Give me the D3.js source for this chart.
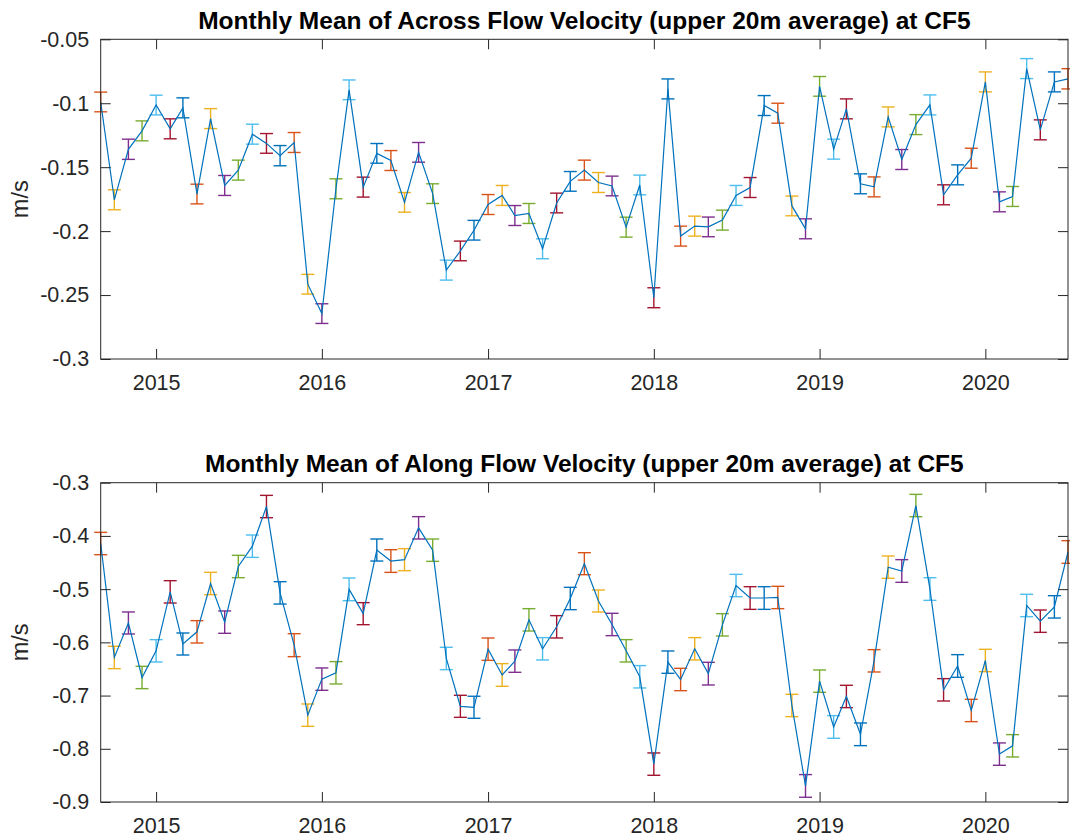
<!DOCTYPE html>
<html>
<head>
<meta charset="utf-8">
<script src="https://cdn.jsdelivr.net/npm/d3@7"></script>
<style>
  body { margin: 0; background: #fff; }
  svg { display: block; }
  text { font-family: Helvetica, Arial, "Liberation Sans", sans-serif; }
</style>
</head>
<body>
<svg id="fig" width="1070" height="840"></svg>
<script>
// Monthly record, September 2014 to July 2020
const months = [
  "2014-09","2014-10","2014-11","2014-12",
  "2015-01","2015-02","2015-03","2015-04","2015-05","2015-06","2015-07","2015-08","2015-09","2015-10","2015-11","2015-12",
  "2016-01","2016-02","2016-03","2016-04","2016-05","2016-06","2016-07","2016-08","2016-09","2016-10","2016-11","2016-12",
  "2017-01","2017-02","2017-03","2017-04","2017-05","2017-06","2017-07","2017-08","2017-09","2017-10","2017-11","2017-12",
  "2018-01","2018-02","2018-03","2018-04","2018-05","2018-06","2018-07","2018-08","2018-09","2018-10","2018-11","2018-12",
  "2019-01","2019-02","2019-03","2019-04","2019-05","2019-06","2019-07","2019-08","2019-09","2019-10","2019-11","2019-12",
  "2020-01","2020-02","2020-03","2020-04","2020-05","2020-06","2020-07"
];

// Across-flow velocity, monthly mean (m/s)
const acrossMean = [
  -0.099, -0.1755, -0.136, -0.1216,
  -0.1014, -0.120, -0.1036, -0.171, -0.112, -0.1643, -0.1523, -0.1242, -0.1314, -0.141, -0.1307, -0.2415,
  -0.2645, -0.1669, -0.0895, -0.1656, -0.1392, -0.1448, -0.1775, -0.1384, -0.1707, -0.2305, -0.2155, -0.1993,
  -0.1792, -0.1721, -0.1878, -0.1862, -0.2138, -0.178, -0.1611, -0.1523, -0.162, -0.1647, -0.1969, -0.1639,
  -0.2521, -0.0888, -0.2039, -0.1961, -0.1967, -0.1914, -0.1721, -0.1659, -0.1018, -0.1078, -0.1803, -0.1982,
  -0.0868, -0.1359, -0.1044, -0.163, -0.1654, -0.1107, -0.144, -0.1167, -0.1013, -0.1716, -0.156, -0.143,
  -0.0833, -0.1771, -0.1729, -0.0729, -0.1208, -0.0833, -0.0809
];
// Across-flow error (half bar length, m/s)
const acrossErr = [
  0.0077, 0.0078, 0.0079, 0.0078,
  0.0077, 0.0078, 0.0078, 0.0077, 0.0078, 0.0078, 0.0078, 0.0078, 0.0077, 0.0079, 0.0078, 0.0077,
  0.0077, 0.0078, 0.0077, 0.0078, 0.0077, 0.0078, 0.0077, 0.0077, 0.0077, 0.0078, 0.0077, 0.0077,
  0.0078, 0.0078, 0.0078, 0.0078, 0.0078, 0.0077, 0.0077, 0.0078, 0.0078, 0.0077, 0.0078, 0.0077,
  0.0078, 0.0078, 0.0078, 0.0078, 0.0077, 0.0078, 0.0078, 0.0078, 0.0078, 0.0078, 0.0077, 0.0078,
  0.0077, 0.0078, 0.0078, 0.0078, 0.0078, 0.0078, 0.0078, 0.0078, 0.0078, 0.0078, 0.0078, 0.0078,
  0.0078, 0.0078, 0.0078, 0.0078, 0.0078, 0.0078, 0.0079
];

// Along-flow velocity, monthly mean (m/s)
const alongMean = [
  -0.4143, -0.6284, -0.5636, -0.666,
  -0.6159, -0.5051, -0.6031, -0.5802, -0.4894, -0.562, -0.4575, -0.4193, -0.3448, -0.507, -0.6053, -0.7368,
  -0.6691, -0.6572, -0.5004, -0.5461, -0.4265, -0.4472, -0.4446, -0.3848, -0.4268, -0.6303, -0.7202, -0.722,
  -0.6128, -0.6613, -0.6353, -0.5577, -0.6121, -0.5708, -0.5176, -0.4522, -0.5223, -0.5664, -0.6159, -0.6647,
  -0.8288, -0.6372, -0.6698, -0.6121, -0.6588, -0.5671, -0.4932, -0.5167, -0.5167, -0.5157, -0.7186, -0.8698,
  -0.6729, -0.759, -0.7017, -0.7728, -0.6347, -0.4587, -0.4659, -0.3429, -0.4998, -0.6892, -0.6444, -0.728,
  -0.6341, -0.81, -0.7944, -0.5307, -0.5602, -0.5333, -0.4302
];
// Along-flow error (half bar length, m/s)
const alongErr = [
  0.0210, 0.0210, 0.0207, 0.0210,
  0.0210, 0.0210, 0.0207, 0.0210, 0.0210, 0.0210, 0.0210, 0.0210, 0.0210, 0.0210, 0.0216, 0.0210,
  0.0210, 0.0210, 0.0213, 0.0207, 0.0207, 0.0213, 0.0207, 0.0210, 0.0210, 0.0210, 0.0207, 0.0207,
  0.0210, 0.0213, 0.0210, 0.0210, 0.0210, 0.0210, 0.0210, 0.0207, 0.0207, 0.0210, 0.0210, 0.0210,
  0.0210, 0.0210, 0.0210, 0.0210, 0.0213, 0.0210, 0.0210, 0.0213, 0.0213, 0.0210, 0.0210, 0.0213,
  0.0210, 0.0213, 0.0210, 0.0213, 0.0210, 0.0210, 0.0213, 0.0210, 0.0213, 0.0210, 0.0213, 0.0210,
  0.0210, 0.0210, 0.0210, 0.0210, 0.0210, 0.0210, 0.0213
];

const yearTicks = ["2015", "2016", "2017", "2018", "2019", "2020"];
const acrossTicks = ["-0.3", "-0.25", "-0.2", "-0.15", "-0.1", "-0.05"];
const alongTicks = ["-0.9", "-0.8", "-0.7", "-0.6", "-0.5", "-0.4", "-0.3"];

const acrossTitle = "Monthly Mean of Across Flow Velocity (upper 20m average) at CF5";
const alongTitle = "Monthly Mean of Along Flow Velocity (upper 20m average) at CF5";
const yLabel = "m/s";

// Default colour order; the mean line takes the first colour and the
// monthly error bars follow it through the cycle.
const colorOrder = ["#0072BD", "#D95319", "#EDB120", "#7E2F8E", "#77AC30", "#4DBEEE", "#A2142F"];

const svg = d3.select("#fig");
svg.append("rect").attr("width", 1070).attr("height", 840).attr("fill", "#fff");

const parseMonth = d3.utcParse("%Y-%m");
const parseYear = d3.utcParse("%Y");
const dates = months.map(parseMonth);

const left = 100.7, right = 1068;
const axisColor = "#262626";
const tickFont = 21.5;

const x = d3.scaleUtc()
  .domain([dates[0], dates[dates.length - 1]])
  .range([left, right]);

function panel(opts) {
  const { top, bottom, ticks, mean, err, title } = opts;
  const tickVals = ticks.map(Number);
  const y = d3.scaleLinear()
    .domain([tickVals[0], tickVals[tickVals.length - 1]])
    .range([bottom, top]);

  const g = svg.append("g");

  // error bars
  const capHalf = 6.5;
  const bars = g.append("g").selectAll("g")
    .data(mean.map((m, i) => ({ d: dates[i], m, e: err[i], i })))
    .join("g")
    .attr("stroke", d => colorOrder[(d.i + 1) % colorOrder.length])
    .attr("stroke-width", 1.4)
    .attr("fill", "none");
  bars.append("line")
    .attr("x1", d => x(d.d)).attr("x2", d => x(d.d))
    .attr("y1", d => y(d.m - d.e)).attr("y2", d => y(d.m + d.e));
  bars.append("line")
    .attr("x1", d => x(d.d) - capHalf).attr("x2", d => x(d.d) + capHalf)
    .attr("y1", d => y(d.m - d.e)).attr("y2", d => y(d.m - d.e));
  bars.append("line")
    .attr("x1", d => x(d.d) - capHalf).attr("x2", d => x(d.d) + capHalf)
    .attr("y1", d => y(d.m + d.e)).attr("y2", d => y(d.m + d.e));

  // monthly mean line
  g.append("path")
    .datum(mean)
    .attr("fill", "none")
    .attr("stroke", colorOrder[0])
    .attr("stroke-width", 1.2)
    .attr("d", d3.line().x((d, i) => x(dates[i])).y(d => y(d)));

  // axes box
  const yearDates = yearTicks.map(parseYear);
  const styleAxis = sel => {
    sel.select(".domain").remove();
    sel.selectAll(".tick line").attr("stroke", axisColor).attr("stroke-width", 1);
    sel.selectAll(".tick text")
      .attr("fill", axisColor)
      .style("font-size", tickFont + "px")
      .style("font-family", "Helvetica, Arial, 'Liberation Sans', sans-serif");
  };

  g.append("g").attr("transform", `translate(0,${bottom})`)
    .call(d3.axisBottom(x).tickValues(yearDates)
      .tickFormat((d, i) => yearTicks[i]).tickSizeInner(-10).tickSizeOuter(0).tickPadding(15.5))
    .call(styleAxis);
  g.append("g").attr("transform", `translate(0,${top})`)
    .call(d3.axisTop(x).tickValues(yearDates).tickFormat("").tickSizeInner(-10).tickSizeOuter(0))
    .call(styleAxis);
  g.append("g").attr("transform", `translate(${left},0)`)
    .call(d3.axisLeft(y).tickValues(tickVals)
      .tickFormat((d, i) => ticks[i]).tickSizeInner(-10).tickSizeOuter(0).tickPadding(11.5))
    .call(styleAxis);
  g.append("g").attr("transform", `translate(${right},0)`)
    .call(d3.axisRight(y).tickValues(tickVals).tickFormat("").tickSizeInner(-10).tickSizeOuter(0))
    .call(styleAxis);

  g.append("rect")
    .attr("x", left).attr("y", top)
    .attr("width", right - left).attr("height", bottom - top)
    .attr("fill", "none").attr("stroke", axisColor).attr("stroke-width", 1);

  // title and axis label
  g.append("text")
    .attr("x", (left + right) / 2).attr("y", top - 10.5)
    .attr("text-anchor", "middle")
    .attr("fill", "#000")
    .style("font-size", "24.5px").style("font-weight", "bold")
    .text(title);

  g.append("text")
    .attr("transform", `translate(28,${(top + bottom) / 2}) rotate(-90)`)
    .attr("text-anchor", "middle")
    .attr("fill", axisColor)
    .style("font-size", "23.6px")
    .text(yLabel);
}

panel({ top: 39.3, bottom: 359, ticks: acrossTicks, mean: acrossMean, err: acrossErr, title: acrossTitle });
panel({ top: 482.7, bottom: 802, ticks: alongTicks, mean: alongMean, err: alongErr, title: alongTitle });
</script>
</body>
</html>
